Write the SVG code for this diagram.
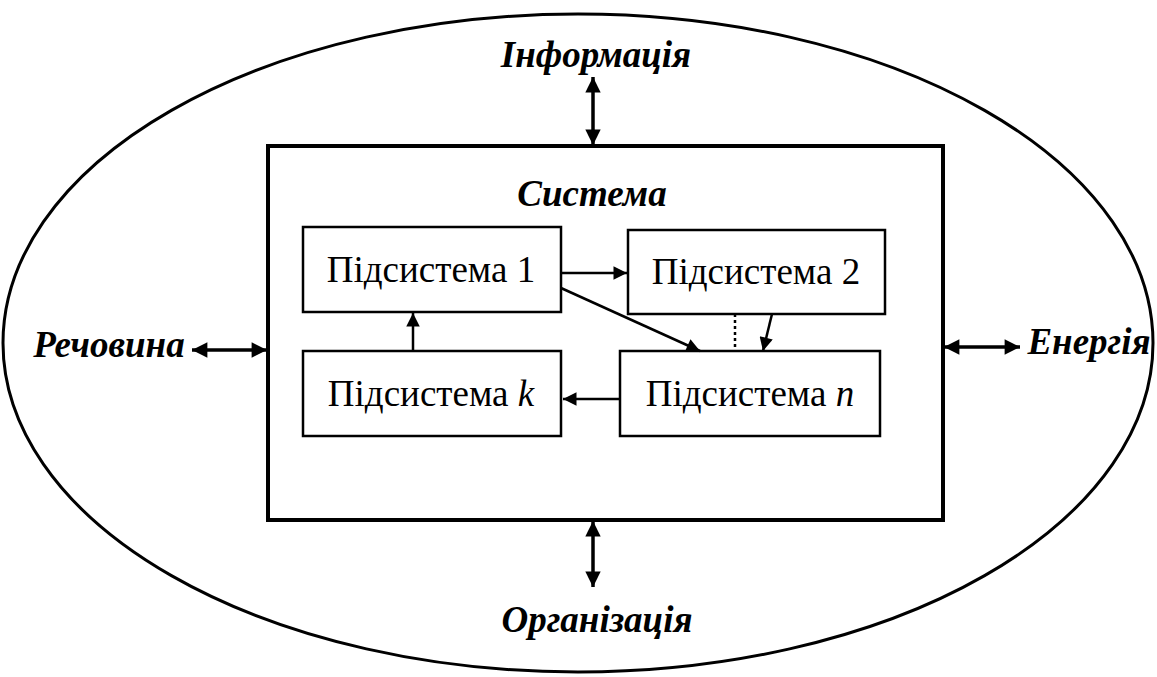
<svg xmlns="http://www.w3.org/2000/svg" width="1157" height="677" viewBox="0 0 1157 677">
<style>
.box{fill:#fff;stroke:#000;stroke-width:2.5}
.sub{font-family:"Liberation Serif","Times New Roman",serif;font-size:37px;fill:#000;text-anchor:middle}
.lbl{font-family:"Liberation Serif","Times New Roman",serif;font-size:37px;font-weight:bold;font-style:italic;fill:#000;text-anchor:middle}
.ln{stroke:#000;stroke-width:2.5;fill:none}
.dl{stroke:#000;stroke-width:3.5;fill:none}
</style>
<defs>
<marker id="ah" viewBox="0 0 10 10" refX="10" refY="5" markerWidth="6.4" markerHeight="5.4" markerUnits="strokeWidth" orient="auto">
<path d="M0,0 L10,5 L0,10 z" fill="#000"/>
</marker>
<marker id="dh" viewBox="0 0 10 10" refX="10" refY="5" markerWidth="4.8" markerHeight="4.4" markerUnits="strokeWidth" orient="auto-start-reverse">
<path d="M0,0 L10,5 L0,10 z" fill="#000"/>
</marker>
</defs>
<g id="environment">
<ellipse cx="578" cy="343" rx="575" ry="329" fill="none" stroke="#000" stroke-width="3"/>
</g>
<g id="system">
<rect x="268" y="146" width="675" height="374" fill="none" stroke="#000" stroke-width="4"/>
<text class="lbl" x="592" y="206">Система</text>
</g>
<g id="sub1">
<rect class="box" x="303" y="227" width="258" height="85"/>
<text class="sub" x="431" y="282">Підсистема 1</text>
</g>
<g id="sub2">
<rect class="box" x="628" y="230" width="257" height="84"/>
<text class="sub" x="756" y="284">Підсистема 2</text>
</g>
<g id="subk">
<rect class="box" x="303" y="351" width="258" height="85"/>
<text class="sub" x="431" y="406">Підсистема <tspan font-style="italic">k</tspan></text>
</g>
<g id="subn">
<rect class="box" x="620" y="351" width="260" height="85"/>
<text class="sub" x="750" y="406">Підсистема <tspan font-style="italic">n</tspan></text>
</g>
<g id="label-info"><text class="lbl" x="596" y="67">Інформація</text></g>
<g id="label-org"><text class="lbl" x="597" y="632">Організація</text></g>
<g id="label-mat"><text class="lbl" x="109" y="357">Речовина</text></g>
<g id="label-energy"><text class="lbl" x="1089" y="354">Енергія</text></g>
<g id="connectors">
<line class="ln" x1="561" y1="273" x2="627" y2="273" marker-end="url(#ah)"/>
<line class="ln" x1="561" y1="288" x2="700" y2="351" marker-end="url(#ah)"/>
<line class="ln" x1="772" y1="314" x2="763" y2="351" marker-end="url(#ah)"/>
<line class="ln" x1="735" y1="314" x2="735" y2="351" stroke-dasharray="3,3"/>
<line class="ln" x1="620" y1="399" x2="563" y2="399" marker-end="url(#ah)"/>
<line class="ln" x1="413" y1="351" x2="413" y2="313" marker-end="url(#ah)"/>
<line class="dl" x1="593" y1="77" x2="593" y2="145" marker-start="url(#dh)" marker-end="url(#dh)"/>
<line class="dl" x1="593" y1="521" x2="593" y2="587" marker-start="url(#dh)" marker-end="url(#dh)"/>
<line class="dl" x1="192" y1="350" x2="267" y2="350" marker-start="url(#dh)" marker-end="url(#dh)"/>
<line class="dl" x1="944" y1="347" x2="1020" y2="347" marker-start="url(#dh)" marker-end="url(#dh)"/>
</g>
</svg>
